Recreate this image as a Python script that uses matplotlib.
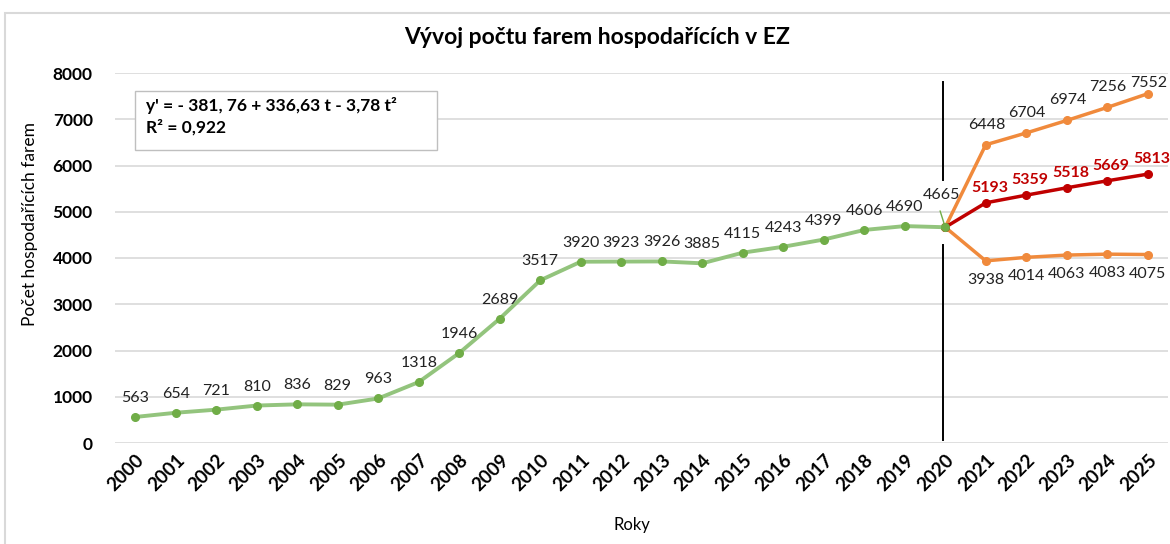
import matplotlib
matplotlib.use("Agg")
import matplotlib.pyplot as plt
from matplotlib.patches import Rectangle

plt.rcParams['font.family'] = ['Lato', 'DejaVu Sans']

# data
years = list(range(2000, 2026))
hist_years = list(range(2000, 2021))
hist_vals = [563, 654, 721, 810, 836, 829, 963, 1318, 1946, 2689, 3517,
             3920, 3923, 3926, 3885, 4115, 4243, 4399, 4606, 4690, 4665]
fc_years = list(range(2020, 2026))
fc_high = [4665, 6448, 6704, 6974, 7256, 7552]
fc_mid = [4665, 5193, 5359, 5518, 5669, 5813]
fc_low = [4665, 3938, 4014, 4063, 4083, 4075]

title = "Vývoj počtu farem hospodařících v EZ"
ylabel = "Počet hospodařících farem"
xlabel = "Roky"
equation = "y' = - 381, 76 + 336,63 t - 3,78 t²\nR² = 0,922"

GREEN_LINE = '#93C47D'
GREEN_DOT = '#70AD47'
ORANGE = '#F08A3C'
RED = '#C00000'

W, H = 1170, 544
fig = plt.figure(figsize=(W / 100, H / 100), dpi=100)
ax = fig.add_axes([115 / W, 1 - 443 / H, (1168 - 115) / W, (443 - 73) / H])

# chart border
fig.patches.append(Rectangle((5 / W, -0.05), 1.2, 1.05 - 13 / H,
                             transform=fig.transFigure, fill=False,
                             edgecolor='#D9D9D9', lw=1.5, zorder=0))

xi = {y: i for i, y in enumerate(years)}
hx = [xi[y] for y in hist_years]
fx = [xi[y] for y in fc_years]

ax.plot(fx, fc_high, color=ORANGE, lw=2.5, marker='o', ms=5.5, zorder=3)
ax.plot(fx, fc_low, color=ORANGE, lw=2.5, marker='o', ms=5.5, zorder=3)
ax.plot(fx, fc_mid, color=RED, lw=2.5, marker='o', ms=5.5, zorder=4)
ax.plot(hx, hist_vals, color=GREEN_LINE, lw=2.8, zorder=5)
ax.plot(hx, hist_vals, 'o', color=GREEN_DOT, ms=5.5, zorder=6)

# vertical divider at 2020
x20 = xi[2020]
ax.plot([x20 - 0.05, x20 - 0.05], [7800, 5690], color='black', lw=1.4, zorder=2)
ax.plot([x20 - 0.05, x20 - 0.05], [4280, 60], color='black', lw=1.4, zorder=2)

# labels
LBL = 11.5
for x, v in zip(hx[:-1], hist_vals[:-1]):
    ax.annotate(str(v), (x, v), xytext=(0, 19), textcoords='offset pixels',
                ha='center', va='center', fontsize=LBL, color='#222222', zorder=7)
ax.annotate(str(hist_vals[-1]), (hx[-1], hist_vals[-1]), xytext=(-4, 32),
            textcoords='offset pixels', ha='center', va='center', fontsize=LBL,
            color='#222222', zorder=7)
ax.annotate('', (hx[-1], hist_vals[-1]), xytext=(-6, 19), textcoords='offset pixels',
            arrowprops=dict(arrowstyle='-', color=GREEN_DOT, lw=1), zorder=7)

for i, (x, v) in enumerate(zip(fx[1:], fc_high[1:])):
    dy = 11 if i == len(fx) - 2 else 20
    ax.annotate(str(v), (x, v), xytext=(1, dy), textcoords='offset pixels',
                ha='center', va='center', fontsize=LBL, color='#222222', zorder=7)
for x, v in zip(fx[1:], fc_low[1:]):
    ax.annotate(str(v), (x, v), xytext=(0, -19), textcoords='offset pixels',
                ha='center', va='center', fontsize=LBL, color='#222222', zorder=7)
for x, v in zip(fx[1:], fc_mid[1:]):
    ax.annotate(str(v), (x, v), xytext=(4, 15), textcoords='offset pixels',
                ha='center', va='center', fontsize=LBL, color=RED,
                fontweight='bold', zorder=7)

# axes
ax.set_xlim(-0.5, len(years) - 0.5)
ax.set_ylim(0, 8000)
ax.set_yticks(range(0, 8001, 1000))
ax.set_xticks(range(len(years)))
ax.set_xticklabels([str(y) for y in years], rotation=45, ha='right',
                   rotation_mode='anchor', fontweight='bold', fontsize=13.5)
for lbl in ax.get_yticklabels():
    lbl.set_fontweight('bold')
    lbl.set_fontsize(12.5)
ax.tick_params(axis='y', length=0, pad=16)
ax.tick_params(axis='x', length=0, pad=6)
ax.grid(axis='y', color='#D9D9D9', lw=1.2, zorder=0)
for s in ax.spines.values():
    s.set_visible(False)

# equation box
fig.patches.append(Rectangle((135 / W, 1 - 150 / H), 302 / W, 59 / H,
                             transform=fig.transFigure, facecolor='white',
                             edgecolor='#BFBFBF', lw=1, zorder=5))
fig.text(146 / W, 1 - 106 / H, equation.split('\n')[0], ha='left', va='center',
         fontsize=12.5, fontweight='bold', zorder=6)
fig.text(146 / W, 1 - 127 / H, equation.split('\n')[1], ha='left', va='center',
         fontsize=12.5, fontweight='bold', zorder=6)

fig.text(597 / W, 1 - 37 / H, title, ha='center', va='center',
         fontsize=16.5, fontweight='bold')
fig.text(30 / W, 1 - 224 / H, ylabel, ha='center', va='center',
         rotation=90, fontsize=12.5)
fig.text(632 / W, 1 - 525 / H, xlabel, ha='center', va='center', fontsize=12)

fig.savefig('out.png', dpi=100)
